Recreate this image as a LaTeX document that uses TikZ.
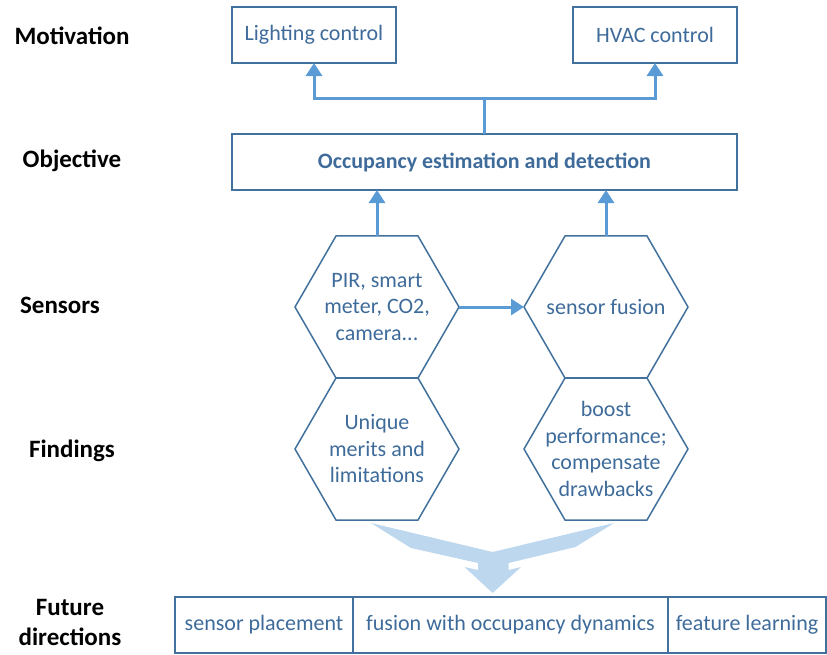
\documentclass[tikz,border=0pt]{standalone}
\usepackage{fontspec}
\setmainfont{Carlito}
\usepackage{tikz}
\usetikzlibrary{arrows.meta, shapes.geometric, positioning, calc}
\definecolor{frame}{HTML}{41719C}
\definecolor{ink}{HTML}{3E6B9A}
\definecolor{wire}{HTML}{5B9BD5}
\definecolor{haze}{HTML}{BDD7EE}
\tikzset{
  box/.style={
    rectangle, draw=frame, line width=1.5pt,
    minimum height=56pt, inner sep=0pt, outer sep=0pt,
    text=ink, font=\fontsize{22}{26.5}\selectfont
  },
  hexa/.style={
    regular polygon, regular polygon sides=6, minimum size=164pt,
    inner sep=0pt, outer sep=0pt, draw=frame, line width=1.5pt
  },
  hextext/.style={
    align=center, text=ink, font=\fontsize{22}{26.5}\selectfont
  },
  rowlabel/.style={
    align=center, font=\fontsize{25}{30}\selectfont\bfseries
  },
  arrow/.style={-{Triangle[width=16pt,length=13pt]}, line width=3pt, draw=wire},
  link/.style={line width=3pt, draw=wire}
}

\begin{document}
\begin{tikzpicture}[x=1pt, y=-1pt]
  \useasboundingbox (0,0) rectangle (827,654);

  % row labels
  \node[rowlabel] (lmot) at (72,36) {Motivation};
  \node[rowlabel] (lobj) at (72,161) {Objective};
  \node[rowlabel] (lsen) at (60,305) {Sensors};
  \node[rowlabel] (lfin) at (72,451) {Findings};
  \node[rowlabel] (lfut) at (70,622) {Future\\directions};

  % motivation and objective
  \node[box, minimum width=164pt] (light) at (314,35) {Lighting control};
  \node[box, minimum width=164pt] (hvac) at (655,35) {HVAC control};
  \node[box, minimum width=505pt, font=\fontsize{22}{26.5}\selectfont\bfseries]
    (obj) at (484.5,162) {Occupancy estimation and detection};

  \coordinate (split) at (484.5,98);
  \draw[link] (obj.north) -- (split);
  \draw[arrow] (split) -| (light.south);
  \draw[arrow] (split) -| (hvac.south);

  % sensors and findings
  \node[hexa] (pir) at (377,307) {};
  \node[hexa] (fus) at (606,307) {};
  \node[hexa] (uniq) at (377,449) {};
  \node[hexa] (boost) at (606,449) {};
  \node[hextext] at (pir) {PIR, smart\\meter, CO2,\\camera...};
  \node[hextext] at (fus) {sensor fusion};
  \node[hextext] at (uniq) {Unique\\merits and\\limitations};
  \node[hextext] at (boost) {boost\\performance;\\compensate\\drawbacks};

  \draw[arrow] (pir.east) -- (fus.west);
  \draw[arrow] (pir.north) -- (pir.north |- obj.south);
  \draw[arrow] (fus.north) -- (fus.north |- obj.south);

  % merging arrow
  \fill[haze] (371,523) -- (411,548) -- (478,563) -- (478,570) -- (464.5,567)
    -- (492.6,593) -- (521,567) -- (508.5,570) -- (508.5,563) -- (575.5,547)
    -- (614,523) -- (492.6,552) -- cycle;

  % future directions
  \node[box, minimum width=178pt] (place) at (264,625) {sensor placement};
  \node[box, minimum width=315pt, right=0pt of place] (dyn) {fusion with occupancy dynamics};
  \node[box, minimum width=158pt, right=0pt of dyn] (feat) {feature learning};
\end{tikzpicture}
\end{document}
